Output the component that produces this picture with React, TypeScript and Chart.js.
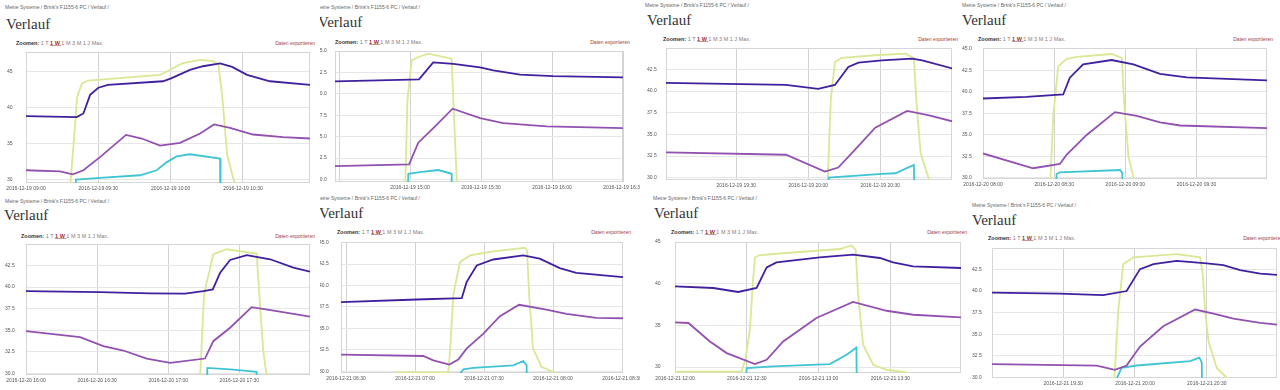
import React, { useEffect, useRef } from "react";
import { Chart, registerables } from "chart.js";

Chart.register(...registerables);

type Pt = [number, number];

// ---- Panel 1: 2016-12-19 09:00 - 11:00 ----
const p1Blue: Pt[] = [[540,38.82],[561,38.7],[563.8,39.2],[566.6,41.8],[570,42.8],[574,43.2],[596.8,43.7],[600.2,44.1],[608,45.3],[613.4,45.8],[620.5,46.2],[625.5,45.7],[631.7,44.6],[641.2,43.7],[657.8,43.2]];
const p1Purple: Pt[] = [[540,31.26],[554.1,31.1],[559.4,30.7],[563.8,31.26],[570.7,33.1],[581.5,36.2],[588,35.7],[595.6,34.7],[603.9,35.1],[612.2,36.4],[618,37.66],[624.6,37.2],[634.2,36.26],[646.6,35.9],[657.8,35.7]];
const p1Yellow: Pt[] = [[540,24],[557,24],[558.3,29],[560,36],[561.2,41.5],[563.2,43.4],[565.7,43.8],[595.6,44.6],[599.8,45.3],[604.7,46.2],[612.2,46.7],[617.6,46.5],[619.7,46.1],[621.3,42],[623.4,33.5],[627.6,28],[631,24],[657.8,24]];
const p1Cyan: Pt[] = [[540,20],[560.3,20],[560.7,29.95],[570.7,30.2],[587.3,30.56],[594.2,31.26],[598.4,32.4],[602.5,33.2],[608,33.5],[620.5,32.9],[620.7,20],[657.8,20]];

// ---- Panel 2: 2016-12-19 14:30 - 16:30 ----
const p2Blue: Pt[] = [[868.3,41.45],[900,41.65],[903.8,41.68],[909.8,43.67],[918.3,43.5],[929.6,43.1],[935.2,42.73],[946.5,42.23],[960.5,42.07],[990,41.92]];
const p2Purple: Pt[] = [[868.3,31.55],[899.6,31.75],[903.5,34.29],[910.6,36.19],[918,38.26],[929.6,37.16],[939.4,36.58],[957.8,36.19],[990,35.99]];
const p2Yellow: Pt[] = [[868.3,24],[897.5,24],[898.9,39.2],[900.7,43.9],[903.5,44.3],[907.7,44.68],[917.6,44.1],[918.3,39.2],[919.7,30.3],[920.8,24],[990,24]];
const p2Cyan: Pt[] = [[868.3,20],[898.3,20],[899.3,30.66],[904.2,30.85],[912,31.1],[917.6,30.66],[918,20],[990,20]];

// ---- Panel 3: 2016-12-19 19:00 - 21:00 ----
const p3Blue: Pt[] = [[1140.7,40.95],[1190.7,40.71],[1204.1,40.25],[1211.1,40.71],[1216.7,42.78],[1220.9,43.28],[1230.7,43.55],[1243.3,43.75],[1247.5,43.55],[1260.5,42.58]];
const p3Purple: Pt[] = [[1140.7,32.92],[1190.7,32.65],[1206.9,30.7],[1212.5,31.17],[1219.5,33.24],[1227.9,35.77],[1241.2,37.71],[1250.4,37.21],[1260.5,36.47]];
const p3Yellow: Pt[] = [[1140.7,24],[1207.3,24],[1209.4,39.08],[1211.1,43.36],[1213.9,43.83],[1227.9,44.14],[1240.5,44.33],[1244,43.83],[1245,39.08],[1246.8,32.85],[1250.4,29.73],[1252,24],[1260.5,24]];
const p3Cyan: Pt[] = [[1140.7,20],[1208.2,20],[1208.5,30.0],[1230.7,30.43],[1236.3,30.51],[1244,31.48],[1244.7,20],[1260.5,20]];

// ---- Panel 4: 2016-12-20 08:00 - 10:00 ----
const p4Blue: Pt[] = [[480,39.22],[498.3,39.42],[513.8,39.69],[516.6,41.64],[522.2,43.2],[534.2,43.7],[543.4,43.2],[554.6,42.1],[565.9,41.67],[599.7,41.32]];
const p4Purple: Pt[] = [[480,32.82],[501.1,31.1],[512.4,31.6],[515.2,32.65],[523.7,34.98],[535.6,37.64],[544.8,37.2],[554.6,36.43],[563.1,36.08],[599.7,35.77]];
const p4Yellow: Pt[] = [[480,24],[507.5,24],[509.6,37.1],[511.7,42.97],[515.2,43.8],[519.5,44.06],[534.2,44.4],[538.5,43.94],[539.4,39.1],[541.3,32.45],[543.4,30.1],[545,24],[599.7,24]];
const p4Cyan: Pt[] = [[480,20],[510.3,20],[511,30.43],[512.4,30.63],[537.8,30.9],[538.7,30.51],[539.1,20],[599.7,20]];

// ---- Panel 5: 2016-12-20 16:00 - 18:00 ----
const p5Blue: Pt[] = [[960,39.53],[991.2,39.42],[1012.3,39.27],[1027.1,39.23],[1034.8,39.53],[1038.8,39.73],[1041.9,41.67],[1046.1,43.14],[1053.1,43.69],[1063,43.22],[1072.8,42.26],[1079.8,41.79]];
const p5Purple: Pt[] = [[960,34.88],[982.8,34.19],[992.6,33.14],[1001.1,32.64],[1010.9,31.71],[1020.8,31.21],[1035.5,31.71],[1039,33.72],[1046.1,35.28],[1055.2,37.67],[1065.8,37.2],[1079.8,36.56]];
const p5Yellow: Pt[] = [[960,24],[1032.5,24],[1035.1,39.15],[1039,43.8],[1044.7,44.38],[1057.3,43.88],[1058.4,39.15],[1060.1,32.56],[1064.3,24],[1079.8,24]];
const p5Cyan: Pt[] = [[960,20],[1035.9,20],[1036.5,30.63],[1047.5,30.43],[1057.3,30.16],[1057.6,20],[1079.8,20]];

// ---- Panel 6: 2016-12-21 06:30 - 08:30 ----
const p6Blue: Pt[] = [[387.8,38.05],[420.7,38.37],[440.3,38.52],[442.4,40.39],[446.8,42.33],[454,43.03],[467,43.5],[474.2,43.12],[482.9,42.02],[490.1,41.48],[510.4,40.97]];
const p6Purple: Pt[] = [[387.8,31.95],[423.6,31.78],[427.9,31.28],[434.9,30.78],[438.8,31.36],[442.4,32.64],[449.6,34.36],[456.9,36.42],[465.2,37.75],[477.1,37.2],[485.8,36.7],[498.8,36.23],[510.4,36.18]];
const p6Yellow: Pt[] = [[387.8,24],[411,24],[412,29.88],[434.4,29.88],[435.2,32.3],[436.6,38.83],[439.5,42.72],[443.9,43.5],[454,43.97],[467.7,44.4],[468.7,44.08],[469.6,38.83],[471.3,32.64],[475,30.5],[480.5,29.88],[481.5,24],[510.4,24]];
const p6Cyan: Pt[] = [[387.8,20],[438.7,20],[438.8,29.5],[441,30.23],[445.3,30.39],[462.7,30.7],[467,31.2],[468.5,30.7],[468.8,20],[510.4,20]];

// ---- Panel 7: 2016-12-21 12:00 - 14:00 ----
const p7Blue: Pt[] = [[720,39.67],[736,39.48],[746.4,39.0],[754.1,39.48],[758.3,41.95],[762.4,42.55],[780.5,43.15],[794.4,43.48],[805.6,43.08],[811.1,42.55],[819.5,42.07],[839.5,41.88]];
const p7Purple: Pt[] = [[720,35.35],[725.6,35.28],[734.6,33.07],[741.6,31.67],[753.4,30.35],[758.3,30.87],[765.2,33.07],[779.1,35.88],[794.4,37.8],[808.4,36.75],[819.5,36.27],[839.5,35.95]];
const p7Yellow: Pt[] = [[720,29.45],[747.8,29.45],[749.5,31],[751.3,34.5],[752.5,40],[753.4,43.1],[755,43.4],[761,43.56],[788.9,44.16],[793.7,44.59],[795.5,44.08],[796.5,38.67],[798.6,32.67],[802.8,30.27],[808.4,29.67],[816.7,29.35],[818,24],[839.5,24]];
const p7Cyan: Pt[] = [[720,20],[749.6,20],[749.9,29.87],[761,30.07],[784.7,30.35],[791.7,31.47],[795.8,32.35],[796.2,20],[839.5,20]];

// ---- Panel 8: 2016-12-21 19:00 - 21:00 ----
const p8Blue: Pt[] = [[1140.3,39.81],[1168.6,39.7],[1186.7,39.53],[1196.5,40.0],[1202.1,42.54],[1207.7,43.12],[1217.4,43.5],[1230,43.2],[1236.9,43.0],[1243.9,42.42],[1252.3,42.03],[1259.3,41.87]];
const p8Purple: Pt[] = [[1140.3,31.52],[1184,31.36],[1191.6,30.86],[1196.5,31.36],[1202.1,33.57],[1211.8,35.91],[1225.1,37.86],[1232.8,37.39],[1241.1,36.81],[1252.3,36.31],[1259.3,36.11]];
const p8Yellow: Pt[] = [[1140.3,24],[1190.8,24],[1191.4,29.9],[1193,37.66],[1195.1,43.12],[1199.3,43.9],[1217.4,44.29],[1227.2,43.9],[1228.3,41.95],[1229.3,37.66],[1230.7,34.16],[1234.2,31.05],[1238.4,29.95],[1239.5,24],[1259.3,24]];
const p8Cyan: Pt[] = [[1140.3,20],[1192.2,20],[1192.3,29.8],[1194.4,31.1],[1200.7,31.37],[1223,31.88],[1226.9,32.27],[1227.9,31.69],[1228.3,20],[1259.3,20]];

const CRUMB = "Meine Systeme / Brink's F1155-6 PC / Verlauf /";
const HEADING = "Verlauf";
const EXPORT_LABEL = "Daten exportieren";
const ZOOM_LABEL = "Zoomen:";
const ZOOM_LINKS = ["1 T", "1 W", "1 M", "3 M", "1 J", "Max."];

const BLUE = "#41209f";
const PURPLE = "#9251b0";
const YELLOW = "#d9e894";
const CYAN = "#3fc4d4";

interface PanelCfg {
  clip: [number, number, number, number];
  date: string;
  x: [number, number];
  y: [number, number, number, number]; // min, max, step, decimals
  hideX: number[]; // tick values whose label is not shown
  plot: [number, number, number, number]; // l, t, r, b
  labelLeft: number;
  crumb: [number, number];
  head: [number, number];
  zoom: [number, number];
  exp: [number, number];
  series: [Pt[], Pt[], Pt[], Pt[]];
}

const panels: PanelCfg[] = [
  { clip: [0, 0, 320, 195], date: "2016-12-19", x: [540, 657.8], y: [29.48, 47.79, 5, 0], hideX: [], plot: [26, 52, 310, 183], labelLeft: 7,
    crumb: [5, 7], head: [6, 29.5], zoom: [16, 43], exp: [315, 43], series: [p1Blue, p1Purple, p1Cyan, p1Yellow] },
  { clip: [320, 0, 320, 195], date: "2016-12-19", x: [868.3, 990], y: [29.7, 45.0, 2.5, 1], hideX: [870], plot: [335, 51, 623, 182], labelLeft: 317,
    crumb: [316, 7], head: [318, 27.5], zoom: [335, 41.7], exp: [630, 41.7], series: [p2Blue, p2Purple, p2Cyan, p2Yellow] },
  { clip: [640, 0, 320, 195], date: "2016-12-19", x: [1140.7, 1259.9], y: [29.73, 44.98, 2.5, 1], hideX: [], plot: [666, 48, 952, 180], labelLeft: 647,
    crumb: [645, 5], head: [647, 25.5], zoom: [663, 39.3], exp: [958, 39.3], series: [p3Blue, p3Purple, p3Cyan, p3Yellow] },
  { clip: [960, 0, 320, 195], date: "2016-12-20", x: [480, 599.7], y: [29.85, 45.1, 2.5, 1], hideX: [], plot: [983, 48, 1267, 179], labelLeft: 962,
    crumb: [962, 5], head: [962, 25.5], zoom: [978, 39.3], exp: [1273, 39.3], series: [p4Blue, p4Purple, p4Cyan, p4Yellow] },
  { clip: [0, 195, 320, 195], date: "2016-12-20", x: [960, 1079.8], y: [29.8, 44.99, 2.5, 1], hideX: [], plot: [26, 244, 310, 375], labelLeft: 5,
    crumb: [5, 201], head: [4, 221], zoom: [21, 236], exp: [315, 236], series: [p5Blue, p5Purple, p5Cyan, p5Yellow] },
  { clip: [320, 195, 320, 195], date: "2016-12-21", x: [387.8, 510.4], y: [29.8, 45.07, 2.5, 1], hideX: [], plot: [341, 242, 623, 373], labelLeft: 319,
    crumb: [316, 198], head: [319, 218.5], zoom: [337, 232.3], exp: [631, 232.3], series: [p6Blue, p6Purple, p6Cyan, p6Yellow] },
  { clip: [640, 195, 328, 195], date: "2016-12-21", x: [720, 839.5], y: [29.28, 45.0, 5, 0], hideX: [], plot: [675, 242, 961, 373], labelLeft: 655,
    crumb: [653, 198.3], head: [654, 218.5], zoom: [671, 232.3], exp: [967, 232.3], series: [p7Blue, p7Purple, p7Cyan, p7Yellow] },
  { clip: [968, 195, 312, 195], date: "2016-12-21", x: [1140.3, 1259.3], y: [29.92, 44.99, 2.5, 1], hideX: [], plot: [992, 248, 1277, 378], labelLeft: 972,
    crumb: [972, 205], head: [972, 226], zoom: [988, 238.3], exp: [1283, 238.3], series: [p8Blue, p8Purple, p8Cyan, p8Yellow] },
];

const SANS = '"Liberation Sans", Arial, sans-serif';
const pad2 = (n: number) => (n < 10 ? "0" + n : "" + n);

function stepTicks(min: number, max: number, step: number) {
  const out: { value: number }[] = [];
  const start = Math.ceil(min / step - 1e-9) * step;
  for (let v = start; v <= max + 1e-9; v += step) out.push({ value: Math.round(v * 1000) / 1000 });
  return out;
}

const framePlugin = {
  id: "frameBox",
  beforeDatasetsDraw(chart: any) {
    const { ctx, chartArea } = chart;
    ctx.save();
    ctx.strokeStyle = "#d6d6d6";
    ctx.lineWidth = 1;
    ctx.strokeRect(Math.round(chartArea.left) + 0.5, Math.round(chartArea.top) + 0.5,
      Math.round(chartArea.right - chartArea.left) - 1, Math.round(chartArea.bottom - chartArea.top) - 1);
    ctx.restore();
  },
};

function PanelChart({ cfg }: { cfg: PanelCfg }) {
  const ref = useRef<HTMLCanvasElement | null>(null);
  const [cx, cy] = cfg.clip;
  const [pl, pt, pr, pb] = cfg.plot;
  const PAD_L = 30, PAD_T = 8, PAD_R = 60, XH = 14;
  const yw = pl - cfg.labelLeft;
  const W = PAD_L + (pr - cfg.labelLeft) + PAD_R;
  const H = PAD_T + (pb - pt) + XH;

  useEffect(() => {
    const colors = [BLUE, PURPLE, CYAN, YELLOW];
    const chart = new Chart(ref.current as HTMLCanvasElement, {
      type: "line",
      data: {
        datasets: cfg.series.map((s, i) => ({
          data: s.map(([x, y]) => ({ x, y })),
          borderColor: colors[i],
          backgroundColor: colors[i],
          borderWidth: 1.8,
          pointRadius: 0,
          tension: 0,
          fill: false,
        })),
      },
      options: {
        animation: false,
        responsive: false,
        devicePixelRatio: 1,
        events: [],
        layout: { padding: { top: PAD_T, right: PAD_R, left: PAD_L, bottom: 0 } },
        plugins: { legend: { display: false }, tooltip: { enabled: false } },
        scales: {
          x: {
            type: "linear",
            min: cfg.x[0],
            max: cfg.x[1],
            afterBuildTicks: (s: any) => { s.ticks = stepTicks(cfg.x[0], cfg.x[1], 30); },
            afterFit: (s: any) => { s.height = XH; s.paddingLeft = 0; s.paddingRight = 0; },
            grid: { color: "#d2d2d2", drawTicks: false },
            border: { display: false },
            ticks: {
              autoSkip: false,
              maxRotation: 0,
              minRotation: 0,
              padding: 3,
              color: "#555",
              font: { size: 5, family: SANS },
              callback: (v: any) => {
                const m = Math.round(Number(v));
                if (cfg.hideX.includes(m)) return "";
                return `${cfg.date} ${pad2(Math.floor(m / 60))}:${pad2(m % 60)}`;
              },
            },
          },
          y: {
            type: "linear",
            min: cfg.y[0],
            max: cfg.y[1],
            afterBuildTicks: (s: any) => { s.ticks = stepTicks(cfg.y[0], cfg.y[1], cfg.y[2]); },
            afterFit: (s: any) => { s.width = yw; s.paddingTop = 0; s.paddingBottom = 0; },
            grid: { color: "#e6e6e6", drawTicks: false },
            border: { display: false },
            ticks: {
              autoSkip: false,
              crossAlign: "far",
              padding: 0,
              color: "#555",
              font: { size: 5, family: SANS },
              callback: (v: any) => Number(v).toFixed(cfg.y[3]),
            },
          },
        },
      } as any,
      plugins: [framePlugin],
    });
    return () => chart.destroy();
  }, []);

  return (
    <canvas
      ref={ref}
      width={W}
      height={H}
      style={{ position: "absolute", left: cfg.labelLeft - PAD_L - cx, top: pt - PAD_T - cy, width: W, height: H }}
    />
  );
}

function Panel({ cfg }: { cfg: PanelCfg }) {
  const [cx, cy, cw, ch] = cfg.clip;
  const small = (extra: React.CSSProperties): React.CSSProperties => ({
    position: "absolute",
    whiteSpace: "nowrap",
    fontFamily: SANS,
    fontSize: 10,
    lineHeight: "12px",
    ...extra,
  });
  return (
    <div style={{ position: "absolute", left: cx, top: cy, width: cw, height: ch, overflow: "hidden", background: "#fff" }}>
      <div style={small({ left: cfg.crumb[0] - cx, top: cfg.crumb[1] - cy - 6, color: "#666", transform: "scale(0.5)", transformOrigin: "left center" })}>
        {CRUMB}
      </div>
      <div style={{ position: "absolute", left: cfg.head[0] - cx, top: cfg.head[1] - cy - 12.6, fontFamily: '"Liberation Serif", "Times New Roman", serif', fontSize: 15, lineHeight: "15px", color: "#333", whiteSpace: "nowrap" }}>
        {HEADING}
      </div>
      <div style={small({ left: cfg.zoom[0] - cx, top: cfg.zoom[1] - cy - 6, fontSize: 11, color: "#777", transform: "scale(0.5)", transformOrigin: "left center" })}>
        <b style={{ color: "#333" }}>{ZOOM_LABEL}</b>{" "}
        {ZOOM_LINKS.map((z, i) => (
          <span key={i} style={i === 1 ? { color: "#9b2d2d", textDecoration: "underline", fontWeight: "bold" } : { color: "#8a7a7a" }}>
            {z}{i < ZOOM_LINKS.length - 1 ? " " : ""}
          </span>
        ))}
      </div>
      <div style={small({ left: cfg.exp[0] - cx, top: cfg.exp[1] - cy - 6, color: "#a0413a", transform: "translateX(-100%) scale(0.5)", transformOrigin: "right center" })}>
        {EXPORT_LABEL}
      </div>
      <PanelChart cfg={cfg} />
    </div>
  );
}

export default function App() {
  return (
    <div style={{ position: "fixed", left: 0, top: 0, width: 1280, height: 390, background: "#fff", overflow: "hidden" }}>
      {panels.map((p, i) => (
        <Panel key={i} cfg={p} />
      ))}
    </div>
  );
}
